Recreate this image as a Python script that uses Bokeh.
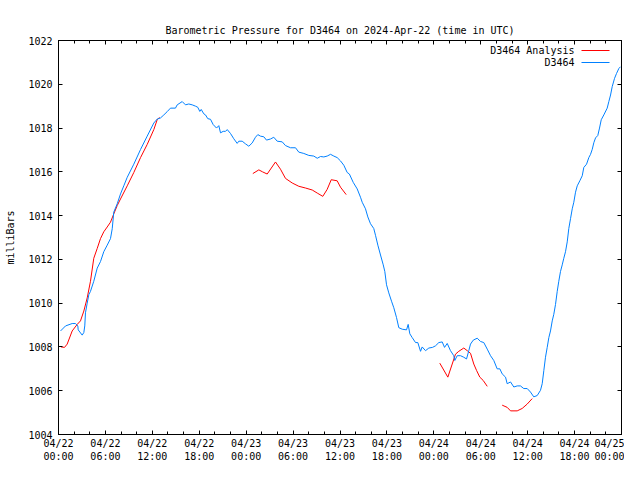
import pandas as pd
from bokeh.plotting import figure
from bokeh.models import (Range1d, FixedTicker, DatetimeTickFormatter, DatetimeAxis,
                          LinearAxis, Label, BoxAnnotation, CustomLabelingPolicy)
from bokeh.embed import file_html
from bokeh.resources import INLINE

START = pd.Timestamp("2024-04-22 00:00")
END = pd.Timestamp("2024-04-25 00:00")

TITLE = "Barometric Pressure for D3464 on 2024-Apr-22 (time in UTC)"
Y_LABEL = "milliBars"
SERIES_NAMES = ["D3464 Analysis", "D3464"]
Y_TICKS = [1004, 1006, 1008, 1010, 1012, 1014, 1016, 1018, 1020, 1022]

# D3464 station observations (hours after 04/22 00:00 UTC, mbar)
station_hours = [0.26, 0.90, 1.75, 2.17, 2.47, 2.52, 3.03, 3.24, 3.36, 3.45,
                 3.67, 3.88, 4.09, 4.51, 4.95, 5.37, 5.79, 6.23, 6.65, 6.87,
                 7.07, 7.51, 7.93, 8.35, 8.79, 9.63, 10.49, 11.34, 12.19, 12.62,
                 13.04, 13.47, 13.90, 14.32, 14.96, 15.18, 15.82, 16.24, 16.66, 17.10,
                 17.52, 17.81, 18.07, 18.25, 18.58, 18.80, 19.09, 19.44, 19.78, 20.21,
                 20.50, 20.72, 21.06, 21.36, 21.58, 22.00, 22.42, 22.85, 23.06, 23.49,
                 23.91, 24.34, 24.77, 25.19, 25.49, 25.83, 26.26, 26.60, 27.11, 27.53,
                 27.97, 28.61, 29.03, 29.67, 30.31, 30.73, 31.37, 32.01, 32.65, 33.09,
                 33.51, 33.93, 34.36, 34.79, 35.21, 35.64, 36.06, 36.49, 36.92, 37.20,
                 37.69, 38.20, 38.62, 38.84, 39.26, 39.56, 39.90, 40.32, 40.54, 40.84,
                 41.18, 41.53, 41.73, 41.95, 42.24, 42.59, 42.88, 43.23, 43.52, 43.96,
                 44.51, 44.72, 44.93, 45.23, 45.66, 45.95, 46.30, 46.51, 46.94, 47.36,
                 47.83, 48.21, 48.64, 49.07, 49.37, 49.71, 50.13, 50.55, 50.68, 50.99,
                 51.41, 51.83, 52.18, 52.47, 52.69, 53.04, 53.55, 53.97, 54.39, 54.83,
                 55.25, 55.67, 56.10, 56.44, 56.74, 57.17, 57.38, 57.81, 58.23, 58.66,
                 59.08, 59.50, 59.94, 60.36, 60.78, 61.22, 61.64, 61.86, 62.07, 62.28,
                 62.50, 62.71, 62.92, 63.14, 63.34, 63.56, 63.78, 63.98, 64.20, 64.42,
                 64.62, 64.84, 65.06, 65.26, 65.48, 65.70, 65.90, 66.12, 66.34, 66.67,
                 66.98, 67.18, 67.53, 67.82, 68.04, 68.26, 68.46, 68.68, 68.97, 69.19,
                 69.41, 69.74, 70.17, 70.38, 70.60, 70.81, 71.11, 71.36, 71.66, 71.87]
station_mbar = [1008.73, 1008.96, 1009.07, 1009.07, 1008.96, 1008.78, 1008.54, 1008.66, 1008.96, 1009.56,
                1010.00, 1010.39, 1010.54, 1011.00, 1011.60, 1011.90, 1012.35, 1012.65, 1012.95, 1013.40,
                1014.16, 1014.54, 1014.99, 1015.36, 1015.75, 1016.35, 1017.02, 1017.63, 1018.23, 1018.41,
                1018.46, 1018.60, 1018.75, 1018.91, 1018.91, 1019.06, 1019.21, 1019.06, 1019.10, 1019.06,
                1019.00, 1018.95, 1018.76, 1018.85, 1018.65, 1018.60, 1018.43, 1018.40, 1018.16, 1018.00,
                1018.11, 1017.78, 1017.85, 1017.85, 1017.93, 1017.75, 1017.51, 1017.30, 1017.40, 1017.40,
                1017.28, 1017.17, 1017.32, 1017.58, 1017.70, 1017.63, 1017.60, 1017.45, 1017.50, 1017.58,
                1017.40, 1017.37, 1017.20, 1017.10, 1017.10, 1016.90, 1016.84, 1016.75, 1016.72, 1016.62,
                1016.70, 1016.68, 1016.72, 1016.80, 1016.72, 1016.65, 1016.50, 1016.30, 1015.97, 1015.90,
                1015.52, 1015.22, 1014.84, 1014.61, 1014.31, 1013.94, 1013.63, 1013.41, 1013.10, 1012.65,
                1012.20, 1011.75, 1011.45, 1010.84, 1010.47, 1010.09, 1009.79, 1009.34, 1008.88, 1008.81,
                1008.78, 1009.03, 1008.60, 1008.43, 1008.20, 1008.20, 1007.80, 1008.00, 1007.83, 1007.95,
                1007.98, 1008.05, 1008.20, 1008.23, 1007.98, 1008.16, 1007.83, 1007.60, 1007.38, 1007.60,
                1007.60, 1007.53, 1007.45, 1007.83, 1008.13, 1008.31, 1008.40, 1008.25, 1008.20, 1007.90,
                1007.60, 1007.38, 1007.00, 1007.00, 1006.77, 1006.62, 1006.32, 1006.40, 1006.17, 1006.22,
                1006.22, 1006.10, 1006.10, 1005.94, 1005.72, 1005.78, 1006.02, 1006.32, 1006.93, 1007.53,
                1007.98, 1008.43, 1008.73, 1009.19, 1009.49, 1009.94, 1010.54, 1011.00, 1011.45, 1011.75,
                1012.05, 1012.35, 1012.80, 1013.41, 1013.86, 1014.31, 1014.61, 1015.07, 1015.36, 1015.59,
                1015.82, 1016.20, 1016.35, 1016.65, 1016.80, 1017.03, 1017.33, 1017.55, 1017.66, 1018.00,
                1018.38, 1018.60, 1018.91, 1019.21, 1019.51, 1019.89, 1020.27, 1020.49, 1020.72, 1020.80]

# D3464 Analysis segments
analysis_a_hours = [0.32, 0.77, 1.11, 1.75, 2.39, 2.81, 3.24, 3.67, 4.09, 4.51, 4.95, 5.37, 5.79,
                    6.23, 6.65, 7.07, 7.51, 7.93, 8.79, 9.63, 10.49, 11.34, 12.19, 12.62, 12.92]
analysis_a_mbar = [1008.00, 1007.98, 1008.13, 1008.73, 1009.03, 1009.19, 1009.64, 1010.24, 1011.00,
                   1012.05, 1012.50, 1012.95, 1013.26, 1013.48, 1013.70, 1014.08, 1014.46, 1014.76,
                   1015.36, 1015.97, 1016.65, 1017.25, 1017.93, 1018.38, 1018.49]
analysis_b_hours = [24.85, 25.62, 26.09, 26.69, 27.75, 28.39, 29.03, 29.89, 30.73, 31.59, 32.45,
                    33.09, 33.80, 34.36, 34.88, 35.64, 36.06, 36.79]
analysis_b_mbar = [1015.92, 1016.09, 1016.00, 1015.90, 1016.45, 1016.12, 1015.70, 1015.49, 1015.34,
                   1015.26, 1015.17, 1015.03, 1014.88, 1015.20, 1015.64, 1015.59, 1015.30, 1014.96]
analysis_c_hours = [48.76, 49.79, 50.35, 50.77, 51.19, 51.83, 52.27, 52.69, 53.11, 53.46, 53.88,
                    54.31, 54.83]
analysis_c_mbar = [1007.26, 1006.62, 1007.22, 1007.67, 1007.80, 1007.95, 1007.83, 1007.71, 1007.22,
                   1006.93, 1006.62, 1006.47, 1006.20]
analysis_d_hours = [56.74, 57.38, 57.81, 58.66, 59.30, 59.94, 60.58]
analysis_d_mbar = [1005.34, 1005.24, 1005.08, 1005.08, 1005.19, 1005.39, 1005.64]

RED = "#ff0000"
BLUE = "#0080ff"
FONT = "DejaVu Sans Mono"
FS = "10px"


def to_time(hours):
    return [START + pd.Timedelta(hours=h) for h in hours]


def ms(ts):
    return ts.timestamp() * 1000.0


major_ticks = [ms(t) for t in pd.date_range(START, END, freq="6h")]
minor_ticks = [ms(t) for t in pd.date_range(START, END, freq="2h")]

p = figure(width=624, height=464, x_axis_type="datetime",
           x_range=Range1d(START.to_pydatetime(), END.to_pydatetime()),
           y_range=Range1d(1004, 1022),
           output_backend="svg", toolbar_location=None,
           min_border_left=58, min_border_right=3, min_border_top=40, min_border_bottom=28)

p.title.text = TITLE
p.title.align = "center"
p.title.text_font = FONT
p.title.text_font_size = FS
p.title.text_font_style = "normal"
p.title.text_color = "black"

p.grid.visible = False
p.outline_line_color = "black"
p.outline_line_alpha = 1.0
p.outline_line_width = 1
p.background_fill_color = "white"
p.border_fill_color = "white"

fmt = DatetimeTickFormatter(hours="%m/%d\n%H:%M", hourmin="%m/%d\n%H:%M",
                            days="%m/%d\n%H:%M", months="%m/%d\n%H:%M",
                            minutes="%m/%d\n%H:%M", minsec="%m/%d\n%H:%M")
xt = FixedTicker(ticks=major_ticks, minor_ticks=minor_ticks)
yt = FixedTicker(ticks=Y_TICKS, minor_ticks=[])


def style_axis(ax):
    ax.axis_line_color = "black"
    ax.major_tick_line_color = "black"
    ax.minor_tick_line_color = "black"
    ax.major_tick_in = 4
    ax.major_tick_out = 0
    ax.minor_tick_in = 3
    ax.minor_tick_out = 0
    ax.major_label_text_font = FONT
    ax.major_label_text_font_size = FS
    ax.major_label_text_color = "black"


def mirror_axis(ax):
    # tick marks only (gnuplot mirrors the tics on the opposite border)
    style_axis(ax)
    ax.major_label_text_font_size = "0px"
    ax.major_label_standoff = 0
    ax.major_label_policy = CustomLabelingPolicy(code="return new Set()")


xa = p.xaxis[0]
xa.ticker = xt
xa.formatter = fmt
style_axis(xa)
xa.major_label_standoff = 3

ya = p.yaxis[0]
ya.ticker = yt
style_axis(ya)
ya.major_label_standoff = 6
ya.axis_label = Y_LABEL
ya.axis_label_text_font = FONT
ya.axis_label_text_font_size = FS
ya.axis_label_text_font_style = "normal"
ya.axis_label_text_color = "black"
ya.axis_label_standoff = 9

top = DatetimeAxis(ticker=xt, formatter=fmt)
mirror_axis(top)
p.add_layout(top, "above")

right = LinearAxis(ticker=yt)
mirror_axis(right)
p.add_layout(right, "right")

for hrs, vals in [(analysis_a_hours, analysis_a_mbar), (analysis_b_hours, analysis_b_mbar),
                  (analysis_c_hours, analysis_c_mbar), (analysis_d_hours, analysis_d_mbar)]:
    p.line(to_time(hrs), vals, line_color=RED, line_width=1)

p.line(to_time(station_hours), station_mbar, line_color=BLUE, line_width=1)

# gnuplot-style key: text right-aligned, sample line to its right
for i, (name, col) in enumerate(zip(SERIES_NAMES, [RED, BLUE])):
    yy = 384 - 12 * i
    p.add_layout(Label(x=516, y=yy, x_units="screen", y_units="screen", text=name,
                       text_align="right", text_baseline="middle", text_font=FONT,
                       text_font_size=FS, text_color="black"))
    p.add_layout(BoxAnnotation(left=523, right=551, bottom=yy - 0.5, top=yy + 0.5,
                               left_units="screen", right_units="screen",
                               bottom_units="screen", top_units="screen",
                               fill_color=col, fill_alpha=1.0, line_alpha=0))

open("out.html", "w").write(file_html(p, INLINE))
